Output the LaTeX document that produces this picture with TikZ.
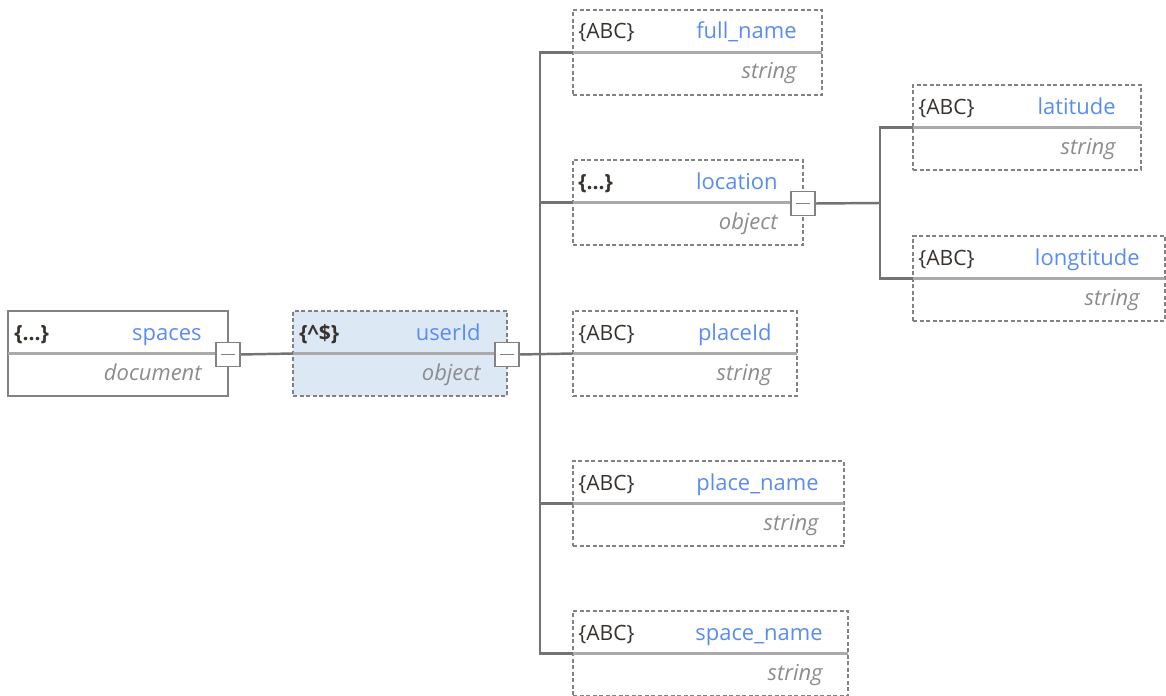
\documentclass[tikz,border=0pt]{standalone}
\usepackage{fontspec}
\setmainfont{Open Sans}
\usepackage{xcolor}
\usetikzlibrary{positioning}
\definecolor{boxgray}{RGB}{130, 130, 130}
\definecolor{rulegray}{RGB}{170, 170, 170}
\definecolor{linegray}{RGB}{115, 115, 115}
\definecolor{namblue}{RGB}{90, 140, 240}
\definecolor{typegray}{RGB}{140, 140, 140}
\definecolor{icondark}{RGB}{55, 50, 45}
\definecolor{selblue}{RGB}{221, 232, 245}

\begin{document}
\begin{tikzpicture}[x=0.02cm, y=-0.02cm,
    field/.style={draw=boxgray, line width=0.9pt, dash pattern=on 2.3pt off 1.4pt, anchor=north west,
        minimum height=1.7cm, inner sep=0pt, outer sep=0pt},
    docfield/.style={field, solid},
    divider/.style={draw=rulegray, line width=1.4pt},
    icon/.style={anchor=base west, text=icondark, inner sep=0pt, font=\fontsize{12}{14}\selectfont},
    fname/.style={anchor=base east, text=namblue, inner sep=0pt, font=\fontsize{12.5}{14}\selectfont},
    ftype/.style={anchor=base east, text=typegray, inner sep=0pt, font=\fontsize{12.5}{14}\selectfont\itshape},
    btn/.style={draw=boxgray, fill=white, line width=1.1pt, minimum size=0.48cm, inner sep=0pt},
    conn/.style={draw=linegray, line width=1.4pt}]
    \useasboundingbox (0,0) rectangle (1166,696);

    % Root document
    \node[docfield, minimum width=4.4cm] (spaces) at (8,311) {};
    \draw[divider] (spaces.west) -- (spaces.east);
    \node[icon] (spacesicon) at ([shift={(6,29)}]spaces.north west) {\bfseries\{...\}};
    \node[fname] (spacesname) at ([shift={(-26,29)}]spaces.north east) {spaces};
    \node[ftype] (spacestype) at ([shift={(-26,69)}]spaces.north east) {document};
    \node[btn] (spacesbtn) at ([yshift=-0.02cm]spaces.east) {};
    \draw[boxgray, line width=0.8pt] ([xshift=-0.14cm]spacesbtn.center) -- ([xshift=0.14cm]spacesbtn.center);

    % Pattern field
    \node[field, fill=selblue, minimum width=4.28cm] (userid) at (293,311) {};
    \draw[divider] (userid.west) -- (userid.east);
    \node[icon] (useridicon) at ([shift={(6,29)}]userid.north west) {\bfseries\{\textasciicircum\$\}};
    \node[fname] (useridname) at ([shift={(-26,29)}]userid.north east) {userId};
    \node[ftype] (useridtype) at ([shift={(-26,69)}]userid.north east) {object};
    \node[btn] (useridbtn) at ([yshift=-0.02cm]userid.east) {};
    \draw[boxgray, line width=0.8pt] ([xshift=-0.14cm]useridbtn.center) -- ([xshift=0.14cm]useridbtn.center);

    % Children of userId
    \node[field, minimum width=4.98cm] (fullname) at (573,10) {};
    \draw[divider] (fullname.west) -- (fullname.east);
    \node[icon] (fullnameicon) at ([shift={(5,29)}]fullname.north west) {\{ABC\}};
    \node[fname] (fullnamename) at ([shift={(-25,29)}]fullname.north east) {full\_name};
    \node[ftype] (fullnametype) at ([shift={(-25,69)}]fullname.north east) {string};

    \node[field, minimum width=4.6cm] (location) at (573,160) {};
    \draw[divider] (location.west) -- (location.east);
    \node[icon] (locationicon) at ([shift={(5,29)}]location.north west) {\bfseries\{...\}};
    \node[fname] (locationname) at ([shift={(-25,29)}]location.north east) {location};
    \node[ftype] (locationtype) at ([shift={(-25,69)}]location.north east) {object};
    \node[btn] (locationbtn) at ([yshift=-0.02cm]location.east) {};
    \draw[boxgray, line width=0.8pt] ([xshift=-0.14cm]locationbtn.center) -- ([xshift=0.14cm]locationbtn.center);

    \node[field, minimum width=4.48cm] (placeid) at (573,311) {};
    \draw[divider] (placeid.west) -- (placeid.east);
    \node[icon] (placeidicon) at ([shift={(5,29)}]placeid.north west) {\{ABC\}};
    \node[fname] (placeidname) at ([shift={(-25,29)}]placeid.north east) {placeId};
    \node[ftype] (placeidtype) at ([shift={(-25,69)}]placeid.north east) {string};

    \node[field, minimum width=5.42cm] (placename) at (573,461) {};
    \draw[divider] (placename.west) -- (placename.east);
    \node[icon] (placenameicon) at ([shift={(5,29)}]placename.north west) {\{ABC\}};
    \node[fname] (placenamename) at ([shift={(-25,29)}]placename.north east) {place\_name};
    \node[ftype] (placenametype) at ([shift={(-25,69)}]placename.north east) {string};

    \node[field, minimum width=5.5cm] (spacename) at (573,611) {};
    \draw[divider] (spacename.west) -- (spacename.east);
    \node[icon] (spacenameicon) at ([shift={(5,29)}]spacename.north west) {\{ABC\}};
    \node[fname] (spacenamename) at ([shift={(-25,29)}]spacename.north east) {space\_name};
    \node[ftype] (spacenametype) at ([shift={(-25,69)}]spacename.north east) {string};

    % Children of location
    \node[field, minimum width=4.56cm] (latitude) at (913,85) {};
    \draw[divider] (latitude.west) -- (latitude.east);
    \node[icon] (latitudeicon) at ([shift={(5,29)}]latitude.north west) {\{ABC\}};
    \node[fname] (latitudename) at ([shift={(-25,29)}]latitude.north east) {latitude};
    \node[ftype] (latitudetype) at ([shift={(-25,69)}]latitude.north east) {string};

    \node[field, minimum width=5.04cm] (longtitude) at (913,236) {};
    \draw[divider] (longtitude.west) -- (longtitude.east);
    \node[icon] (longtitudeicon) at ([shift={(5,29)}]longtitude.north west) {\{ABC\}};
    \node[fname] (longtitudename) at ([shift={(-25,29)}]longtitude.north east) {longtitude};
    \node[ftype] (longtitudetype) at ([shift={(-25,69)}]longtitude.north east) {string};

    % Connectors
    \coordinate (fork1) at (540,353);
    \coordinate (fork2) at (880,203);
    \draw[conn] (spacesbtn.east) -- (userid.west);
    \draw[conn] (useridbtn.east) -- (placeid.west);
    \draw[conn] (fullname.west) -| (fork1) |- (spacename.west);
    \draw[conn] (location.west) -| (fork1);
    \draw[conn] (placename.west) -| (fork1);
    \draw[conn] (locationbtn.east) -- (fork2);
    \draw[conn] (latitude.west) -| (fork2) |- (longtitude.west);
\end{tikzpicture}
\end{document}
